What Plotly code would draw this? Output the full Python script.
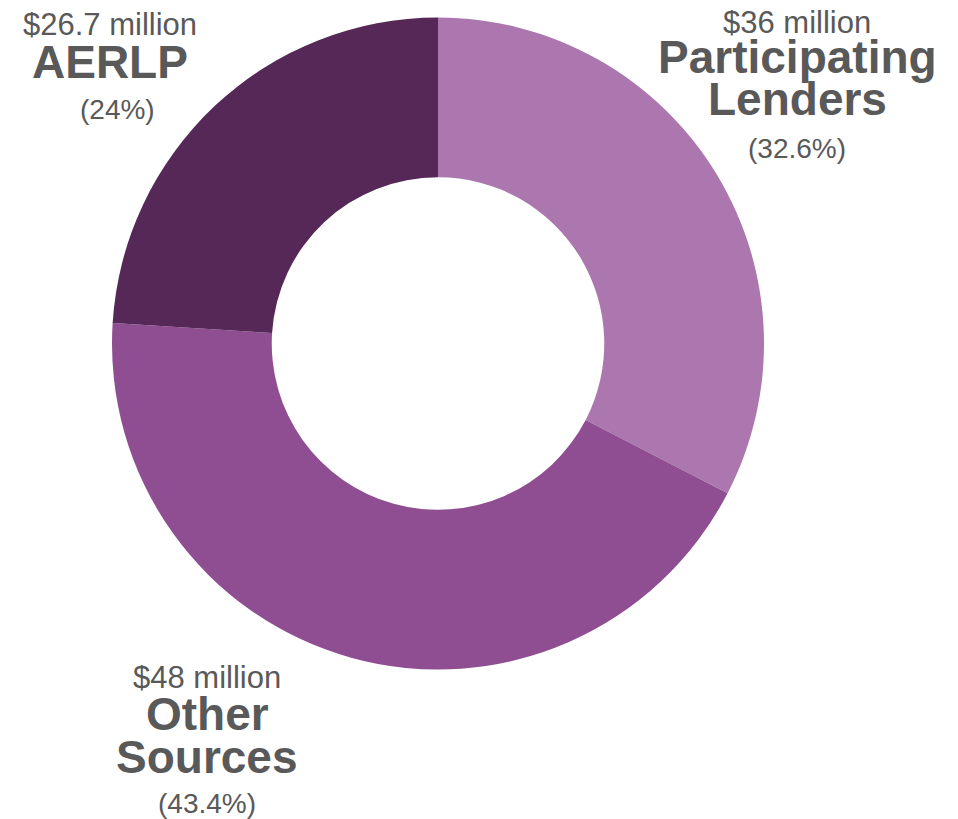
import plotly.graph_objects as go

# data
labels = ["Participating Lenders", "Other Sources", "AERLP"]
amounts = ["$36 million", "$48 million", "$26.7 million"]
shares = [32.6, 43.4, 24.0]
colors = ["#AB77AE", "#8E4E91", "#552857"]

W, H = 958, 819
GREY = "#595959"

def px(x):
    return x / W

def py(y):
    return 1 - y / H

fig = go.Figure()
fig.add_trace(go.Pie(
    labels=labels,
    values=shares,
    hole=0.51,
    sort=False,
    direction="clockwise",
    rotation=0,
    textinfo="none",
    marker=dict(colors=colors, line=dict(width=0)),
    domain=dict(x=[px(112), px(764)], y=[py(670), py(17)]),
    showlegend=False,
))

# label blocks: (center x, y of amount line, y of name lines, y of percent line) in pixels
blocks = {
    "Participating Lenders": (797, 22, [57, 99], 148),
    "Other Sources": (207, 677, [714, 757], 803),
    "AERLP": (110, 24, [62], 110),
}
name_lines = {
    "Participating Lenders": ["Participating", "Lenders"],
    "Other Sources": ["Other", "Sources"],
    "AERLP": ["AERLP"],
}

def ann(text, x, y, size, bold=False):
    fig.add_annotation(
        text="<b>%s</b>" % text if bold else text,
        x=px(x), y=py(y), xref="paper", yref="paper",
        xanchor="center", yanchor="middle", showarrow=False,
        font=dict(family="Liberation Sans, Arial, sans-serif", size=size, color=GREY),
    )

for lab, amt, pct in zip(labels, amounts, shares):
    cx, ya, ynames, yp = blocks[lab]
    ann(amt, cx, ya, 31)
    for line, yn in zip(name_lines[lab], ynames):
        ann(line, cx, yn, 46, bold=True)
    ann("(%g%%)" % pct, cx + (7 if lab == "AERLP" else 0), yp, 28)

fig.update_layout(
    width=W, height=H,
    margin=dict(l=0, r=0, t=0, b=0),
    paper_bgcolor="white",
    plot_bgcolor="white",
)

# drop the default body margin so the chart fills the window
fig.write_html("out.html", config={"displayModeBar": False},
               post_script="document.body.style.margin='0';")
